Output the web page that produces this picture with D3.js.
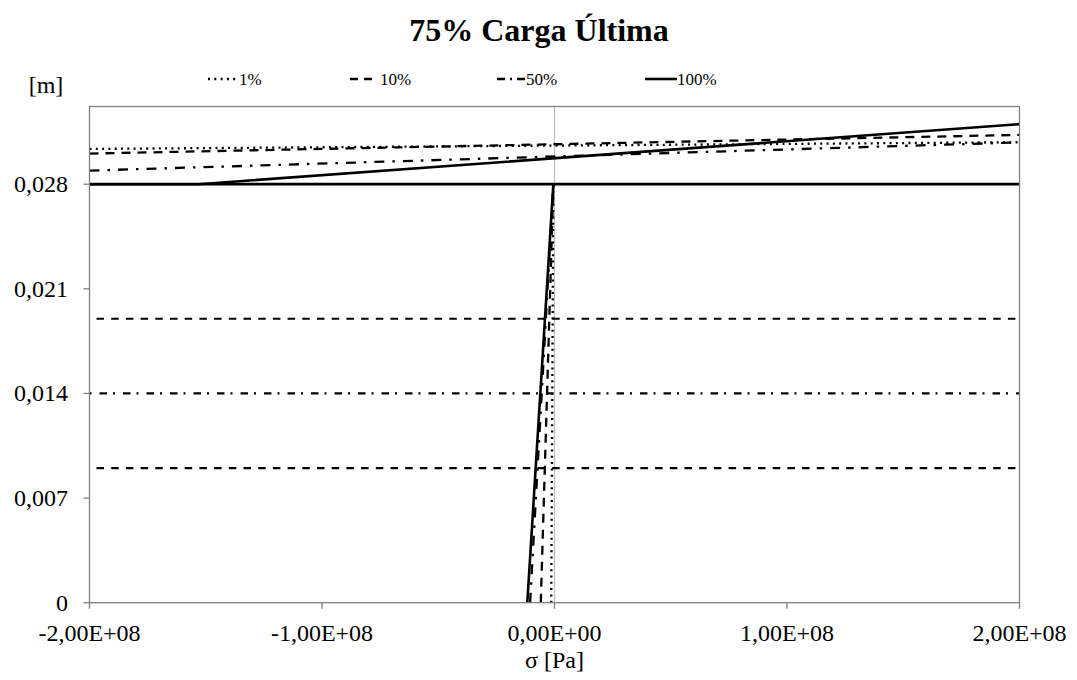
<!DOCTYPE html>
<html>
<head>
<meta charset="utf-8">
<script src="https://cdn.jsdelivr.net/npm/d3@7"></script>
<style>
  html, body { margin: 0; padding: 0; background: #fff; }
  svg { display: block; }
  svg text { font-family: "Liberation Serif", "Times New Roman", serif; }
</style>
</head>
<body>
<svg id="chart" width="1077" height="680"></svg>
<script>
// Stress distribution across the section height for several load fractions
const seriesNames = ["1%", "10%", "50%", "100%"];

// σ [Pa] and height [m]; null breaks a series into separate segments
const sigma1   = [-1.4e6, -5e5, null, -2e8, 2e8];
const height1  = [0, 0.028, null, 0.03036, 0.03081];
const sigma10  = [-5.9e6, -5e5, null, -2e8, 2e8];
const height10 = [0, 0.028, null, 0.03005, 0.03130];
const sigma50  = [-1.05e7, -5e5, null, -2e8, 2e8];
const height50 = [0, 0.028, null, 0.02891, 0.03080];
const sigma100  = [-1.17e7, -5e5, null, -2e8, -1.53e8, 2e8];
const height100 = [0, 0.028, null, 0.028, 0.028, 0.03202];

// Layer boundaries across the section
const boundaryHeights = [0.028, 0.019, 0.014, 0.009];
const boundaryStyles  = ["solid", "dash", "dashdot", "dash"];

// Axis ticks
const xTicks = [-2e8, -1e8, 0, 1e8, 2e8];
const xTickLabels = ["-2,00E+08", "-1,00E+08", "0,00E+00", "1,00E+08", "2,00E+08"];
const yTicks = [0, 0.007, 0.014, 0.021, 0.028];
const yTickLabels = ["0", "0,007", "0,014", "0,021", "0,028"];

const styles = {
  dot:     { dash: "2,4.3", width: 2.3 },
  dash:    { dash: "9,7", width: 2.3 },
  dashdot: { dash: "10,8,2.5,8", width: 2.3 },
  solid:   { dash: null, width: 2.6 }
};
const seriesStyle = ["dot", "dash", "dashdot", "solid"];
const seriesData = [
  [sigma1, height1], [sigma10, height10], [sigma50, height50], [sigma100, height100]
];

const FONT = "'Liberation Serif', 'Times New Roman', serif";
const svg = d3.select("#chart");
const m = { left: 89.5, right: 1019.5, top: 106.5, bottom: 602.7 };

const x = d3.scaleLinear().domain([-2e8, 2e8]).range([m.left, m.right]);
const y = d3.scaleLinear().domain([0, 0.0332]).range([m.bottom, m.top]);

// Title
svg.append("text")
  .attr("x", 539).attr("y", 41)
  .attr("text-anchor", "middle")
  .attr("font-family", FONT)
  .attr("font-weight", "bold")
  .attr("font-size", 32)
  .text("75% Carga Última");

// Unit label
svg.append("text").attr("x", 46).attr("y", 93)
  .attr("font-family", FONT)
  .attr("text-anchor", "middle").attr("font-size", 24).text("[m]");

// Legend
const legendItems = [
  { x0: 208, x1: 236, tx: 239, style: "dot" },
  { x0: 350, x1: 373, tx: 380, style: "dash" },
  { x0: 497, x1: 526, tx: 526, style: "dashdot" },
  { x0: 645, x1: 677, tx: 677, style: "solid" }
];
const leg = svg.append("g");
legendItems.forEach((d, i) => {
  const st = styles[d.style];
  leg.append("line")
    .attr("x1", d.x0).attr("x2", d.x1).attr("y1", 79).attr("y2", 79)
    .attr("stroke", "#000").attr("stroke-width", st.width)
    .attr("stroke-dasharray", d.style === "dash" ? "8,6" : d.style === "dashdot" ? "8,5,2,5" : st.dash);
  leg.append("text")
    .attr("x", d.tx).attr("y", 85)
    .attr("font-family", FONT)
    .attr("font-size", 17)
    .text(seriesNames[i]);
});

// Clip to plot area
svg.append("clipPath").attr("id", "plotClip")
  .append("rect")
  .attr("x", m.left).attr("y", m.top)
  .attr("width", m.right - m.left).attr("height", m.bottom - m.top);

const plot = svg.append("g").attr("clip-path", "url(#plotClip)");

// Vertical axis at σ = 0
plot.append("line")
  .attr("x1", x(0)).attr("x2", x(0))
  .attr("y1", m.top).attr("y2", m.bottom)
  .attr("stroke", "#bdbdbd").attr("stroke-width", 1.2);

// Boundary lines
boundaryHeights.forEach((h, i) => {
  const st = styles[boundaryStyles[i]];
  plot.append("line")
    .attr("x1", boundaryStyles[i] === "dash" ? x(-2e8) + 7 : x(-2e8))
    .attr("x2", x(2e8))
    .attr("y1", y(h)).attr("y2", y(h))
    .attr("stroke", "#000")
    .attr("stroke-width", boundaryStyles[i] === "solid" ? 2.8 : 2.2)
    .attr("stroke-dasharray", boundaryStyles[i] === "dash" ? "7.5,7.2" :
          boundaryStyles[i] === "dashdot" ? "2,8,7.5,6" : st.dash);
});

// Series lines
const line = d3.line()
  .defined(d => d[0] !== null && d[1] !== null)
  .x(d => x(d[0]))
  .y(d => y(d[1]));

seriesData.forEach(([sx, sy], i) => {
  const pts = sx.map((v, k) => [v, sy[k]]);
  const st = styles[seriesStyle[i]];
  plot.append("path")
    .attr("d", line(pts))
    .attr("fill", "none")
    .attr("stroke", "#000")
    .attr("stroke-width", st.width)
    .attr("stroke-dasharray", st.dash);
});

// Plot frame
svg.append("rect")
  .attr("x", m.left).attr("y", m.top)
  .attr("width", m.right - m.left).attr("height", m.bottom - m.top)
  .attr("fill", "none").attr("stroke", "#7f7f7f").attr("stroke-width", 1.3);

// X axis ticks and labels
const xa = svg.append("g");
xTicks.forEach((t, i) => {
  xa.append("line")
    .attr("x1", x(t)).attr("x2", x(t))
    .attr("y1", m.bottom).attr("y2", m.bottom + 6)
    .attr("stroke", "#7f7f7f").attr("stroke-width", 1.3);
  xa.append("text")
    .attr("x", x(t)).attr("y", 641)
    .attr("font-family", FONT)
    .attr("text-anchor", "middle").attr("font-size", 24)
    .text(xTickLabels[i]);
});
svg.append("text")
  .attr("x", x(0)).attr("y", 668)
  .attr("font-family", FONT)
  .attr("text-anchor", "middle").attr("font-size", 24)
  .text("σ [Pa]");

// Y axis ticks and labels
const ya = svg.append("g");
yTicks.forEach((t, i) => {
  ya.append("line")
    .attr("x1", m.left - 6).attr("x2", m.left)
    .attr("y1", y(t)).attr("y2", y(t))
    .attr("stroke", "#7f7f7f").attr("stroke-width", 1.3);
  ya.append("text")
    .attr("x", 68).attr("y", y(t) + 8)
    .attr("font-family", FONT)
    .attr("text-anchor", "end").attr("font-size", 24)
    .text(yTickLabels[i]);
});
</script>
</body>
</html>
